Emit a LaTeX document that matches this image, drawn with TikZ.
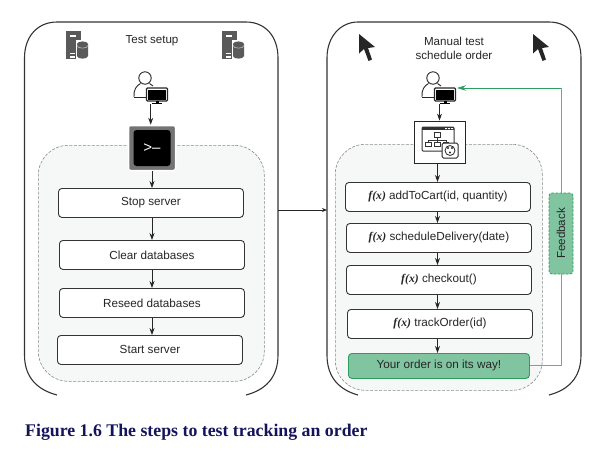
\documentclass[tikz,border=0pt]{standalone}
\usepackage{fontspec}
\setmainfont{Liberation Sans}
\newfontfamily\capfont{Liberation Serif}
\usetikzlibrary{arrows.meta,calc}
\definecolor{panelfill}{HTML}{F6F8F8}
\definecolor{dashcol}{HTML}{8A8A8A}
\definecolor{greenfill}{HTML}{80C4A0}
\definecolor{greenline}{HTML}{2E9E60}
\definecolor{greenconn}{HTML}{58B884}
\definecolor{capcol}{HTML}{14145A}
\definecolor{icongray}{HTML}{5A5A5A}
\tikzset{
 panel/.style={draw=black!80,line width=1.1pt},
 inner/.style={draw=dashcol,dashed,fill=panelfill,line width=.6pt,dash pattern=on 3pt off 1.5pt},
 stepbox/.style={draw=black!80,fill=white,rounded corners=3.5pt,line width=.9pt,anchor=north west,font=\fontsize{11.7}{14}\selectfont,text=black!85,align=center,inner sep=0pt},
 conn/.style={draw=black!85,line width=.8pt,-{Stealth[length=7pt,width=5pt]}},
 gconn/.style={draw=greenconn,line width=1pt},
 lbl/.style={font=\fontsize{11.6}{14}\selectfont,text=black!85,align=center},
 serverpic/.pic={
  \fill[icongray] (0,0) rectangle (15,28);
  \fill[white] (4,3.5) rectangle (10,5.5);
  \fill[white] (4,21.5) rectangle (9,23);
  \fill[white] (4,25) rectangle (9,26.5);
  \fill[white] (9.5,9) rectangle (23,29);
  \fill[icongray] (11,13) -- (11,25) .. controls (11,28.5) and (22,28.5) .. (22,25) -- (22,13) -- cycle;
  \fill[icongray] (16.5,13) ellipse (5.5 and 2.6);
  \draw[white!70!icongray,line width=.5pt] (11,14.5) .. controls (11,18) and (22,18) .. (22,14.5);
 },
 cursorpic/.pic={
  \fill[black!85] (0,0) -- (0,19.5) -- (5,15) -- (9.5,27) -- (13,25.5) -- (9,14) -- (16,13) -- cycle;
 },
 personpic/.pic={
  \draw[black!85,line width=.9pt] (-11,10) .. controls (-11.5,3) and (-9,-1) .. (-4.5,-3.5);
  \draw[black!85,line width=.9pt] (-11,10) -- (2,10);
  \draw[black!85,line width=.9pt] (4.5,-3.5) -- (8,-1);
  \draw[black!85,line width=.9pt,fill=white] (0,-9) circle (6.2);
  \draw[black!85,line width=1.1pt,fill=white,rounded corners=1pt] (1.5,1) rectangle (22.5,14);
  \fill[black] (3,3) rectangle (21,12.8);
  \fill[black] (10.5,14) rectangle (13.5,16);
  \draw[black,line width=1pt] (7,16.5) -- (17,16.5);
 },
}
\begin{document}
\begin{tikzpicture}[x=1pt,y=-1pt]
\useasboundingbox (0,0) rectangle (598,451);
% outer panels
\draw[panel] (57,395) .. controls (38,390) and (24.5,378) .. (24.5,355) -- (24.5,58) .. controls (24.5,36) and (38,22) .. (57,22) -- (246,22) .. controls (265,22) and (278,36) .. (278,58) -- (278,355) .. controls (278,378) and (265,390) .. (246,395);
\draw[panel] (358,395) .. controls (340,390) and (327,378) .. (327,355) -- (327,58) .. controls (327,36) and (341,22) .. (358,22) -- (549,22) .. controls (568,22) and (581,36) .. (581,58) -- (581,355) .. controls (581,378) and (568,390) .. (549,395);
% inner panels
\node[inner,rounded corners=30pt,minimum width=226pt,minimum height=236pt,inner sep=0pt,anchor=north west] (innerL) at (38,145) {};
\node[inner,rounded corners=30pt,minimum width=207pt,minimum height=246pt,inner sep=0pt,anchor=north west] (innerR) at (335,144) {};
% panel titles
\node[lbl] (t1) at (152,41) {Test setup};
\node[lbl] (t2) at (454,48) {Manual test\\schedule order};
% icons
\pic at (66,31) {serverpic};
\pic at (222,31) {serverpic};
\pic at (359,34) {cursorpic};
\pic at (533,34) {cursorpic};
\pic at (145,87) {personpic};
\pic at (433,87) {personpic};
\coordinate (pL) at (150.7,104);
\coordinate (pR) at (439.5,104);
% terminal
\node[draw=white,line width=1.5pt,fill=black!55,rounded corners=2pt,minimum width=47pt,minimum height=45pt,inner sep=0pt] (term) at (152,148) {};
\node[fill=black,rounded corners=3pt,minimum width=37pt,minimum height=36pt,inner sep=0pt,text=white,font=\fontsize{15}{15}\selectfont] (termin) at (152,148) {>--};
% app box
\node[draw=black!85,fill=white,line width=.8pt,minimum width=51pt,minimum height=42pt,inner sep=0pt] (app) at (439.5,142) {};
\begin{scope}[shift={(422,127)}]
 \draw[black!80,line width=1pt,fill=white,rounded corners=1pt] (0,0) rectangle (32,24);
 \fill[black!80] (0,0) rectangle (32,3);
 \fill[white] (23,1) rectangle (25,2) (26,1) rectangle (28,2) (29,1) rectangle (31,2);
 \draw[black!80,line width=.6pt] (12,5) rectangle (18,10) (15,10) -- (15,13) (6,13) -- (24,13) (6,13) -- (6,15) (15,13) -- (15,15) (24,13) -- (24,15) (3,15) rectangle (9,19) (12,15) rectangle (18,19) (21,15) rectangle (26,19);
 \draw[black!85,line width=1pt,fill=white,rounded corners=1.5pt] (20,16) rectangle (36,31);
 \draw[black!85,line width=.8pt,fill=white] (28,23.5) circle (5);
 \fill[black!85] (26,21) circle (1.1) (30,21) circle (1.1) (28,25.5) circle (1.1);
\end{scope}
% left steps
\node[stepbox,minimum width=185pt,minimum height=29pt] (s1) at (58,188) {Stop server};
\node[stepbox,minimum width=185pt,minimum height=29pt] (s2) at (59,240) {Clear databases};
\node[stepbox,minimum width=185pt,minimum height=29pt] (s3) at (59,288) {Reseed databases};
\node[stepbox,minimum width=185pt,minimum height=29pt] (s4) at (57,335) {Start server};
% right steps
\newcommand{\fxx}{{\capfont\bfseries\itshape f(x)}}
\node[stepbox,minimum width=185pt,minimum height=29pt] (r1) at (345,182) {\fxx{} addToCart(id, quantity)};
\node[stepbox,minimum width=185pt,minimum height=29pt] (r2) at (346,223) {\fxx{} scheduleDelivery(date)};
\node[stepbox,minimum width=185pt,minimum height=29pt] (r3) at (346,265) {\fxx{} checkout()};
\node[stepbox,minimum width=185pt,minimum height=29pt] (r4) at (347,309) {\fxx{} trackOrder(id)};
\node[stepbox,draw=greenline,fill=greenfill,minimum width=181pt,minimum height=25pt] (r5) at (348,353) {Your order is on its way!};
% feedback
\node[draw=greenline,fill=greenfill,dashed,dash pattern=on 2.5pt off 1.5pt,rounded corners=3pt,line width=.8pt,minimum width=24pt,minimum height=81pt,inner sep=0pt,text=black!85] (fb) at (561,233.5) {\rotatebox{90}{\fontsize{11.6}{14}\selectfont Feedback}};
% connectors
\draw[conn] (pL) -- (pL |- term.north);
\draw[conn] (term.south) -- (s1.north -| term.south);
\draw[conn] (s1.south -| term.south) -- (s2.north -| term.south);
\draw[conn] (s2.south -| term.south) -- (s3.north -| term.south);
\draw[conn] (s3.south -| term.south) -- (s4.north -| term.south);
\draw[conn] (pR) -- (pR |- app.north);
\coordinate (rx) at (437.5,0);
\draw[conn] (rx |- app.south) -- (rx |- r1.north);
\draw[conn] (rx |- r1.south) -- (rx |- r2.north);
\draw[conn] (rx |- r2.south) -- (rx |- r3.north);
\draw[conn] (rx |- r3.south) -- (rx |- r4.north);
\draw[conn] (rx |- r4.south) -- (rx |- r5.north);
\coordinate (pan) at (278,210);
\coordinate (panr) at (327,210);
\draw[draw=black!85,line width=.8pt,-{Stealth[length=5pt,width=4pt]}] (pan) -- (panr);
\draw[gconn] (r5.east) -- (r5.east -| fb.south) -- (fb.south);
\coordinate (monR) at (457,88);
\draw[gconn] (fb.north) -- (fb.north |- monR);
\draw[draw=greenline,line width=1pt,-{Stealth[length=9pt,width=5.5pt]}] (fb.north |- monR) -- (monR);
% caption
\node[anchor=west,inner sep=0pt,font=\capfont\bfseries\fontsize{17.8}{20}\selectfont,text=capcol] (cap) at (25,432) {Figure 1.6 The steps to test tracking an order};
\end{tikzpicture}
\end{document}
